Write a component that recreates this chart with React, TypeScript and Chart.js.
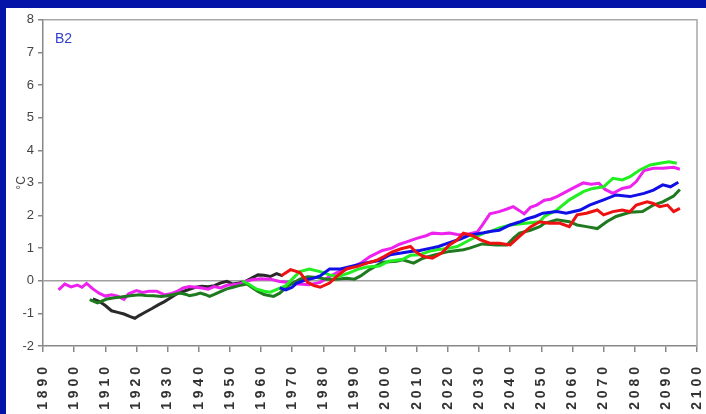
import React, { useEffect, useRef } from "react";
import { Chart, registerables } from "chart.js";

Chart.register(...registerables);

const xTickStart = 1890;
const xTickEnd = 2100;
const xTickStep = 10;
const yMin = -2;
const yMax = 8;
const panelLabel = "B2";
const yTitle = "°C";

const blackYears = [1906, 1908, 1910, 1912, 1914, 1916, 1918, 1919.5, 1921, 1922.5, 1925, 1927, 1929, 1931, 1933, 1935, 1937, 1939, 1941, 1943, 1945, 1947, 1949, 1951, 1953, 1955, 1957, 1959, 1961, 1963, 1965, 1967];
const blackValues = [-0.56, -0.63, -0.76, -0.92, -0.97, -1.02, -1.1, -1.15, -1.06, -0.98, -0.85, -0.74, -0.64, -0.52, -0.4, -0.33, -0.26, -0.2, -0.17, -0.18, -0.15, -0.07, -0.02, -0.1, -0.07, -0.02, 0.08, 0.18, 0.17, 0.13, 0.22, 0.15];

const magentaYears = [1895, 1897, 1899, 1901, 1902.5, 1904, 1906, 1908, 1910, 1912, 1914, 1916, 1917.5, 1920, 1922, 1924, 1926.5, 1929, 1931, 1933, 1935, 1937, 1939, 1941, 1943, 1945, 1947, 1949, 1951, 1953, 1955, 1957, 1960, 1963, 1966, 1969, 1972, 1975.5, 1979, 1982, 1985, 1988.5, 1992, 1995, 1999, 2002, 2004.5, 2007, 2010, 2013, 2015, 2018, 2020.5, 2023, 2025, 2027, 2029.5, 2031, 2033.5, 2036.5, 2039, 2041, 2043, 2044.5, 2046.5, 2048.5, 2051, 2053, 2055, 2057, 2060, 2063.5, 2066, 2068.5, 2070.5, 2073, 2076, 2078.5, 2080.5, 2083, 2086, 2089, 2092.5, 2094.5];
const magentaValues = [-0.28, -0.1, -0.19, -0.13, -0.2, -0.08, -0.25, -0.38, -0.47, -0.43, -0.47, -0.57, -0.4, -0.3, -0.36, -0.32, -0.32, -0.43, -0.4, -0.33, -0.22, -0.18, -0.2, -0.22, -0.26, -0.18, -0.22, -0.14, -0.12, -0.1, -0.02, 0.03, 0.06, 0.05, -0.02, -0.05, -0.1, -0.12, -0.05, 0.13, 0.28, 0.39, 0.54, 0.74, 0.93, 1.0, 1.12, 1.2, 1.3, 1.38, 1.46, 1.44, 1.46, 1.42, 1.4, 1.44, 1.5, 1.7, 2.05, 2.12, 2.2, 2.27, 2.15, 2.05, 2.25, 2.32, 2.47, 2.5, 2.58, 2.68, 2.83, 3.0, 2.96, 2.99, 2.8, 2.68, 2.83, 2.88, 3.04, 3.38, 3.45, 3.45, 3.48, 3.42];

const darkGreenYears = [1905, 1907.5, 1910.5, 1913, 1915, 1918, 1921, 1923, 1925.5, 1928, 1930, 1932, 1934, 1936, 1937, 1939, 1940.5, 1942, 1943.5, 1945, 1947, 1949, 1951, 1953, 1955.5, 1957, 1959, 1961, 1964, 1966, 1968.5, 1972.5, 1975, 1978, 1981, 1984, 1987.5, 1990, 1992, 1995, 1999, 2003.5, 2005.5, 2009, 2012, 2016, 2020.5, 2025, 2027, 2031, 2035.5, 2039, 2041, 2043, 2046.5, 2049.5, 2051, 2055, 2059, 2061.5, 2064.5, 2068, 2071, 2074, 2078.5, 2082.5, 2086, 2089, 2092.5, 2094.5];
const darkGreenValues = [-0.58, -0.68, -0.56, -0.52, -0.5, -0.46, -0.43, -0.45, -0.46, -0.48, -0.46, -0.42, -0.38, -0.42, -0.46, -0.42, -0.38, -0.42, -0.48, -0.42, -0.33, -0.25, -0.2, -0.15, -0.1, -0.2, -0.33, -0.42, -0.48, -0.38, -0.17, 0.05, 0.12, 0.1, 0.05, 0.05, 0.08, 0.05, 0.15, 0.35, 0.57, 0.6, 0.64, 0.54, 0.69, 0.8, 0.9, 0.95, 1.0, 1.13, 1.1, 1.1, 1.3, 1.46, 1.55, 1.66, 1.76, 1.87, 1.81, 1.71, 1.66, 1.6, 1.81, 1.97, 2.1, 2.12, 2.32, 2.42, 2.6, 2.8];

const greenYears = [1954, 1956, 1958.5, 1961, 1963, 1965.5, 1968, 1970, 1972.5, 1975.5, 1979, 1982, 1985, 1988.5, 1991, 1994, 1998, 2001, 2005.5, 2008, 2011, 2014, 2016.5, 2020.5, 2023, 2027, 2031.5, 2034, 2036.5, 2040, 2045, 2049.5, 2051, 2055, 2059, 2063.5, 2066.5, 2070, 2073, 2076, 2078.5, 2081.5, 2085, 2088, 2091, 2093.5];
const greenValues = [0.0, -0.1, -0.25, -0.32, -0.35, -0.25, -0.15, 0.05, 0.28, 0.36, 0.28, 0.18, 0.13, 0.25, 0.35, 0.42, 0.45, 0.6, 0.66, 0.78, 0.8, 0.9, 0.95, 1.0, 1.05, 1.25, 1.46, 1.52, 1.62, 1.71, 1.76, 1.81, 1.97, 2.17, 2.48, 2.73, 2.83, 2.88, 3.14, 3.09, 3.19, 3.39, 3.55, 3.6, 3.65, 3.6];

const blueYears = [1966, 1968, 1970, 1971.5, 1974.5, 1977, 1979, 1982, 1985.5, 1989.5, 1994, 1998, 2001.5, 2005, 2008, 2011, 2014.5, 2017, 2020.5, 2024, 2027, 2031.5, 2034, 2036.5, 2040, 2043, 2045.5, 2048, 2050.5, 2055, 2058, 2062.5, 2065.5, 2070, 2074, 2078.5, 2083, 2086, 2089, 2091.5, 2094];
const blueValues = [-0.22, -0.28, -0.2, -0.07, 0.03, 0.08, 0.15, 0.36, 0.36, 0.45, 0.55, 0.62, 0.8, 0.85, 0.9, 0.93, 1.0, 1.05, 1.17, 1.28, 1.4, 1.47, 1.52, 1.55, 1.71, 1.8, 1.9, 1.97, 2.07, 2.12, 2.07, 2.17, 2.32, 2.48, 2.63, 2.58, 2.68, 2.78, 2.94, 2.88, 3.02];

const redYears = [1966.5, 1969.5, 1972.5, 1975, 1977, 1979, 1982, 1984.5, 1987.5, 1991, 1994, 1997, 1999.5, 2002, 2005, 2008, 2009.5, 2012, 2015, 2018, 2020.5, 2023, 2025, 2028, 2030.5, 2033.5, 2036.5, 2040, 2043, 2046.5, 2049.5, 2052.5, 2056, 2059, 2061.5, 2064.5, 2068, 2070, 2073, 2076, 2078.5, 2080.5, 2084, 2086, 2088, 2090.5, 2092.5, 2094.5];
const redValues = [0.15, 0.34, 0.25, -0.05, -0.15, -0.2, -0.07, 0.15, 0.37, 0.44, 0.54, 0.62, 0.74, 0.88, 0.98, 1.05, 0.9, 0.75, 0.69, 0.85, 1.1, 1.25, 1.46, 1.38, 1.25, 1.15, 1.15, 1.1, 1.36, 1.65, 1.81, 1.76, 1.76, 1.66, 2.02, 2.07, 2.17, 2.02, 2.12, 2.17, 2.12, 2.32, 2.42, 2.37, 2.27, 2.32, 2.12, 2.22];

const seriesList = [
  { name: "red", years: redYears, values: redValues, color: "#ee1111" },
  { name: "blue", years: blueYears, values: blueValues, color: "#1010e6" },
  { name: "green", years: greenYears, values: greenValues, color: "#22ee22" },
  { name: "darkgreen", years: darkGreenYears, values: darkGreenValues, color: "#1f7a1f" },
  { name: "magenta", years: magentaYears, values: magentaValues, color: "#ee22ee" },
  { name: "black", years: blackYears, values: blackValues, color: "#2a2a2a" },
];

const FONT = "'Liberation Sans', Arial, sans-serif";

const framePlugin = {
  id: "frame",
  afterDraw(chart: any) {
    const { ctx, chartArea } = chart;
    const { left, top, right, bottom } = chartArea;
    ctx.save();
    ctx.strokeStyle = "#a8a8a8";
    ctx.lineWidth = 1.5;
    ctx.beginPath();
    ctx.moveTo(left, top);
    ctx.lineTo(right, top);
    ctx.lineTo(right, bottom);
    ctx.stroke();
    ctx.fillStyle = "#3040c8";
    ctx.font = `14px ${FONT}`;
    ctx.textBaseline = "alphabetic";
    ctx.fillText(panelLabel, left + 12, top + 23);
    ctx.restore();
  },
};

export default function App() {
  const canvasRef = useRef<HTMLCanvasElement | null>(null);

  useEffect(() => {
    if (!canvasRef.current) return;
    const chart = new Chart(canvasRef.current, {
      type: "line",
      data: {
        datasets: seriesList.map((s) => ({
          label: s.name,
          data: s.years.map((y, i) => ({ x: y, y: s.values[i] })),
          borderColor: s.color,
          backgroundColor: s.color,
          borderWidth: 3,
          pointRadius: 0,
          tension: 0,
          fill: false,
        })),
      },
      options: {
        responsive: false,
        animation: false,
        layout: { padding: { top: 11, right: 9, left: 0, bottom: 0 } },
        plugins: {
          legend: { display: false },
          tooltip: { enabled: false },
          title: { display: false },
        },
        scales: {
          x: {
            type: "linear",
            min: xTickStart,
            max: xTickEnd,
            afterFit: (scale: any) => {
              scale.height = 68;
              scale.paddingLeft = 0;
              scale.paddingRight = 0;
            },
            border: { display: true, color: "#888", width: 1.5 },
            grid: {
              drawOnChartArea: false,
              drawTicks: true,
              tickLength: 6,
              color: "#888",
              lineWidth: 1.5,
            },
            ticks: {
              stepSize: xTickStep,
              autoSkip: false,
              minRotation: 90,
              maxRotation: 90,
              padding: 15,
              color: "#333",
              font: { family: FONT, size: 14, weight: "bold" },
              callback: (v: any) => String(v).split("").join(" "),
            },
          },
          y: {
            min: yMin,
            max: yMax,
            afterFit: (scale: any) => {
              scale.width = 37;
            },
            border: { display: true, color: "#888", width: 1.5 },
            title: {
              display: true,
              text: yTitle,
              color: "#444",
              font: { family: FONT, size: 12 },
              padding: { top: 8, bottom: 0 },
            },
            grid: {
              drawOnChartArea: true,
              drawTicks: true,
              tickLength: 5,
              color: (ctx: any) => (ctx.tick && ctx.tick.value === 0 ? "#a0a0a0" : "rgba(0,0,0,0)"),
              tickColor: "#888",
              lineWidth: 1.5,
            },
            ticks: {
              stepSize: 1,
              padding: 4,
              color: "#444",
              font: { family: FONT, size: 13 },
            },
          },
        },
      },
      plugins: [framePlugin],
    } as any);
    return () => chart.destroy();
  }, []);

  return (
    <div style={{ position: "fixed", inset: 0, background: "#0514a8", overflow: "hidden" }}>
      <div style={{ position: "absolute", left: 6, top: 8, width: 700, height: 406, background: "#ffffff" }}>
        <canvas ref={canvasRef} width={700} height={406} style={{ display: "block", width: 700, height: 406 }} />
      </div>
    </div>
  );
}
